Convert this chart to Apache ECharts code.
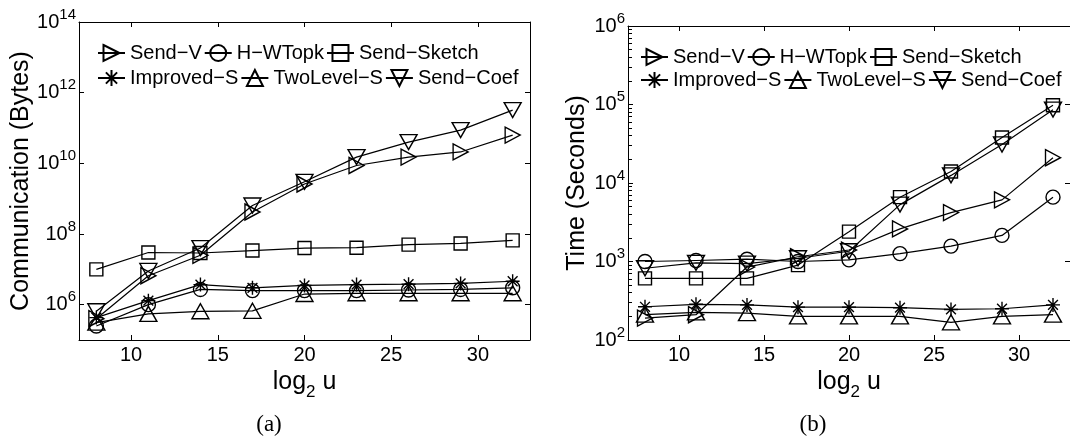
<!DOCTYPE html>
<html><head><meta charset="utf-8">
<script src="https://cdn.jsdelivr.net/npm/echarts@6/dist/echarts.min.js"></script>
<style>html,body{margin:0;padding:0;background:#fff}#c{width:1070px;height:443px}</style>
</head><body><div id="c"></div>
<script>
// ---------- data ----------
const xValues = [8, 11, 14, 17, 20, 23, 26, 29, 32];
const namesRow1 = ['Send−V', 'H−WTopk', 'Send−Sketch'];
const namesRow2 = ['Improved−S', 'TwoLevel−S', 'Send−Coef'];

// (a) Communication (Bytes)
const commSendV      = [4.0e5, 6.6e6, 2.5e7, 4.2e8, 2.6e9, 8.7e9, 1.5e10, 2.1e10, 6.3e10];
const commHWTopk     = [2.5e5, 1.0e6, 2.7e6, 2.5e6, 2.5e6, 2.5e6, 2.6e6, 2.7e6, 3.0e6];
const commSendSketch = [1.0e7, 3.0e7, 2.9e7, 3.4e7, 4.0e7, 4.1e7, 5.0e7, 5.4e7, 6.6e7];
const commImprovedS  = [4.3e5, 1.3e6, 3.7e6, 3.0e6, 3.5e6, 3.7e6, 3.8e6, 4.0e6, 4.6e6];
const commTwoLevelS  = [3.1e5, 5.5e5, 6.5e5, 6.7e5, 2.0e6, 2.1e6, 2.1e6, 2.1e6, 2.1e6];
const commSendCoef   = [6.5e5, 9.0e6, 4.0e7, 6.4e8, 3.0e9, 1.5e10, 4.0e10, 8.7e10, 3.2e11];

// (b) Time (Seconds)
const timeSendV      = [190, 210, 850, 1150, 1400, 2600, 4200, 6100, 21000];
const timeHWTopk     = [1000, 1030, 1070, 1000, 1050, 1260, 1570, 2150, 6600];
const timeSendSketch = [610, 610, 610, 900, 2400, 6600, 14000, 38000, 98000];
const timeImprovedS  = [265, 285, 280, 262, 262, 258, 245, 250, 280];
const timeTwoLevelS  = [210, 225, 220, 200, 200, 200, 168, 200, 210];
const timeSendCoef   = [820, 960, 940, 1100, 1350, 5300, 12500, 31000, 86000];

// tick labels
const xTicks = [10, 15, 20, 25, 30];
const commTicks = [1e6, 1e8, 1e10, 1e12, 1e14];
const timeTicks = [1e2, 1e3, 1e4, 1e5, 1e6];
const timeMinorTicks = [];
for (let i = 0; i < timeTicks.length - 1; i++) {
  for (let k = 2; k <= 9; k++) timeMinorTicks.push(k * timeTicks[i]);
}

// ---------- styles ----------
const FONT = '"Liberation Sans", Arial, Helvetica, sans-serif';
const SYMBOLS = {
  'Send−V':      { symbol: 'path://M0,0L10,5L0,10Z', size: [15, 16] },
  'H−WTopk':     { symbol: 'circle', size: 14 },
  'Send−Sketch': { symbol: 'rect', size: 13 },
  'Improved−S':  { symbol: 'path://M5,0L5,10M0,5L10,5M1.5,1.5L8.5,8.5M8.5,1.5L1.5,8.5', size: 14 },
  'TwoLevel−S':  { symbol: 'triangle', size: [17, 15] },
  'Send−Coef':   { symbol: 'path://M0,0L10,0L5,10Z', size: [17, 15] }
};

function makeSeries(name, values, gi) {
  const s = SYMBOLS[name];
  return {
    type: 'line', name: name,
    xAxisIndex: gi * 2, yAxisIndex: gi === 0 ? 0 : 2,
    data: xValues.map((x, i) => [x, values[i]]),
    symbol: s.symbol, symbolSize: s.size, showSymbol: true,
    lineStyle: { color: '#000', width: 1.2 },
    itemStyle: { color: 'rgba(0,0,0,0)', borderColor: '#000', borderWidth: 1.4 },
    emphasis: { disabled: true },
    animation: false
  };
}

const labelRich = {
  b: { fontSize: 20, lineHeight: 30, fontFamily: FONT, color: '#000' },
  s: { fontSize: 15, lineHeight: 15, fontFamily: FONT, color: '#000', verticalAlign: 'top' }
};
const powFmt = v => '{b|10}{s|' + Math.round(Math.log10(v)) + '}';

function xAxes(gi) {
  const common = {
    gridIndex: gi, type: 'value', min: 7, max: 33,
    axisLine: { onZero: false, lineStyle: { color: '#000', width: 1 } },
    axisTick: { inside: true, length: 5, customValues: xTicks, lineStyle: { color: '#000' } },
    splitLine: { show: false }
  };
  return [
    Object.assign({}, common, {
      position: 'bottom',
      axisLabel: { customValues: xTicks, fontSize: 20, color: '#000', fontFamily: FONT, margin: 5 },
      name: '{t|log}{d|2}{t| u}', nameLocation: 'middle', nameGap: 20,
      nameTextStyle: {
        rich: {
          t: { fontSize: 25, lineHeight: 36, fontFamily: FONT, color: '#000' },
          d: { fontSize: 17, lineHeight: 17, fontFamily: FONT, color: '#000', verticalAlign: 'bottom' }
        }
      }
    }),
    Object.assign({}, common, { position: 'top', axisLabel: { show: false } })
  ];
}

function yAxesFor(gi, min, max, ticks, title, gap) {
  const common = {
    gridIndex: gi, type: 'log', logBase: 10, min: min, max: max,
    axisLine: { onZero: false, lineStyle: { color: '#000', width: 1 } },
    axisTick: { inside: true, length: 5, customValues: ticks, lineStyle: { color: '#000' } },
    splitLine: { show: false }, minorTick: { show: false }
  };
  return [
    Object.assign({}, common, {
      position: 'left',
      axisLabel: { customValues: ticks, formatter: powFmt, rich: labelRich, margin: 3 },
      name: title, nameLocation: 'middle', nameGap: gap,
      nameTextStyle: { fontSize: 25, fontFamily: FONT, color: '#000' }
    }),
    Object.assign({}, common, { position: 'right', axisLabel: { show: false } })
  ];
}

const yAxis = []
  .concat(yAxesFor(0, 1e5, 1e14, commTicks, 'Communication (Bytes)', 44))
  .concat(yAxesFor(1, 1e2, 1e6, timeTicks, 'Time (Seconds)', 38));
yAxis.push({
  gridIndex: 1, type: 'log', logBase: 10, min: 1e2, max: 1e6, position: 'left',
  axisLine: { show: false },
  axisTick: { show: true, inside: true, length: 4, customValues: timeMinorTicks, lineStyle: { color: '#000', width: 1 } },
  axisLabel: { show: false }, splitLine: { show: false }
});

const legendBase = {
  orient: 'horizontal', itemWidth: 27, itemHeight: 20, itemGap: 2, padding: 0,
  selectedMode: false,
  textStyle: { fontSize: 20, color: '#000', fontFamily: FONT }
};

const commData = { 'Send−V': commSendV, 'H−WTopk': commHWTopk, 'Send−Sketch': commSendSketch,
  'Improved−S': commImprovedS, 'TwoLevel−S': commTwoLevelS, 'Send−Coef': commSendCoef };
const timeData = { 'Send−V': timeSendV, 'H−WTopk': timeHWTopk, 'Send−Sketch': timeSendSketch,
  'Improved−S': timeImprovedS, 'TwoLevel−S': timeTwoLevelS, 'Send−Coef': timeSendCoef };
const allNames = namesRow1.concat(namesRow2);

const series = []
  .concat(allNames.map(n => makeSeries(n, commData[n], 0)))
  .concat(allNames.map(n => makeSeries(n, timeData[n], 1)));

const chart = echarts.init(document.getElementById('c'), null, { renderer: 'canvas' });
chart.setOption({
  animation: false,
  backgroundColor: '#fff',
  grid: [
    { left: 79, top: 22, width: 451, height: 318 },
    { left: 628, top: 26, width: 447, height: 314 }
  ],
  xAxis: xAxes(0).concat(xAxes(1)),
  yAxis: yAxis,
  legend: [
    Object.assign({}, legendBase, { data: namesRow1, left: 97, top: 43 }),
    Object.assign({}, legendBase, { data: namesRow2, left: 97, top: 68 }),
    Object.assign({}, legendBase, { data: namesRow1, left: 640, top: 47 }),
    Object.assign({}, legendBase, { data: namesRow2, left: 640, top: 70 })
  ],
  graphic: [
    { type: 'text', x: 269, y: 425, style: { text: '(a)', font: '23px "Liberation Serif", "DejaVu Serif", serif', fill: '#000', textAlign: 'center', textVerticalAlign: 'middle', align: 'center', verticalAlign: 'middle' } },
    { type: 'text', x: 813, y: 425, style: { text: '(b)', font: '23px "Liberation Serif", "DejaVu Serif", serif', fill: '#000', textAlign: 'center', textVerticalAlign: 'middle', align: 'center', verticalAlign: 'middle' } }
  ],
  series: series
});
</script>
</body></html>
